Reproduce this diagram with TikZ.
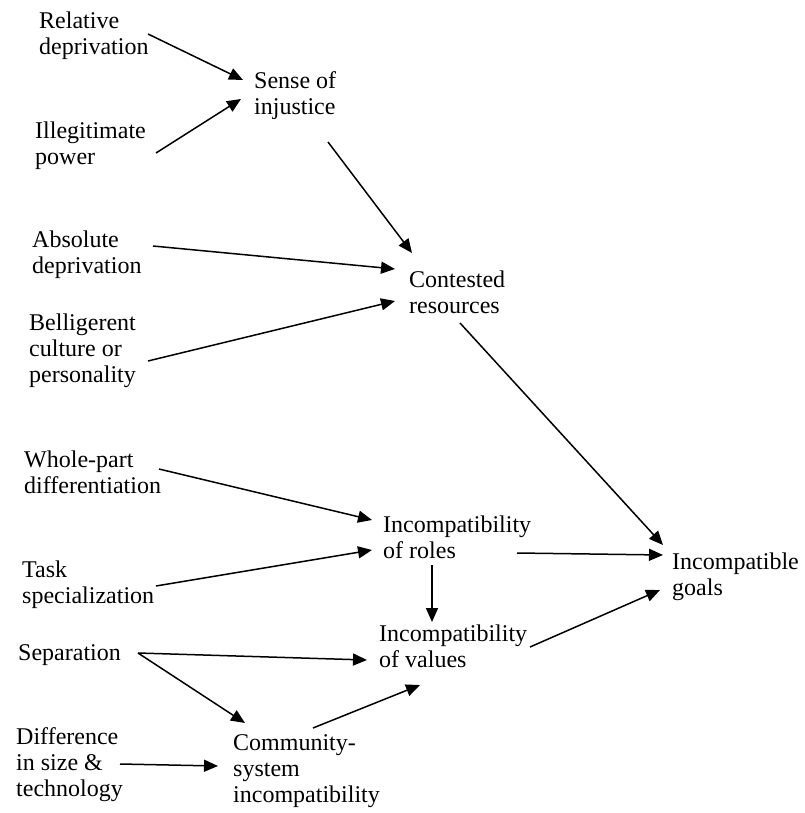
\documentclass[tikz,border=0pt]{standalone}
\usepackage{fontspec}
\setmainfont{Liberation Serif}
\usetikzlibrary{arrows.meta}
\newcommand{\lns}[1]{\begin{tabular}[t]{@{}l@{}}#1\end{tabular}}
\begin{document}
\begin{tikzpicture}[x=1pt,y=-1pt,
  lbl/.style={anchor=base west,inner sep=0pt,font=\fontsize{24}{26}\selectfont},
  conn/.style={line width=1.5pt,-{Triangle[length=14pt,width=12pt]}}]
\useasboundingbox (0,0) rectangle (804,813);
\node[lbl] (rel)    at (39,29)   {\lns{Relative\\deprivation}};
\node[lbl] (sense)  at (254,89)  {\lns{Sense of\\injustice}};
\node[lbl] (illeg)  at (35,139)  {\lns{Illegitimate\\power}};
\node[lbl] (abs)    at (32,247)  {\lns{Absolute\\deprivation}};
\node[lbl] (cont)   at (409,287) {\lns{Contested\\resources}};
\node[lbl] (bell)   at (29,330)  {\lns{Belligerent\\culture or\\personality}};
\node[lbl] (whole)  at (24,467)  {\lns{Whole-part\\differentiation}};
\node[lbl] (roles)  at (383,532) {\lns{Incompatibility\\of roles}};
\node[lbl] (goals)  at (672,569) {\lns{Incompatible\\goals}};
\node[lbl] (task)   at (22,577)  {\lns{Task\\specialization}};
\node[lbl] (sep)    at (18,660)  {\lns{Separation}};
\node[lbl] (values) at (379,641) {\lns{Incompatibility\\of values}};
\node[lbl] (diff)   at (16,744)  {\lns{Difference\\in size \&\\technology}};
\node[lbl] (comm)   at (233,750) {\lns{Community-\\system\\incompatibility}};

\draw[conn] ([shift={(109,5)}]rel.base west) -- ([shift={(-11,-9)}]sense.base west);
\draw[conn] ([shift={(121,14)}]illeg.base west) -- ([shift={(-13,10)}]sense.base west);
\draw[conn] ([shift={(74,53)}]sense.base west) -- ([shift={(3,-34)}]cont.base west);
\draw[conn] ([shift={(121,-1)}]abs.base west) -- ([shift={(-14,-18)}]cont.base west);
\draw[conn] ([shift={(119,31)}]bell.base west) -- ([shift={(-14,14)}]cont.base west);
\draw[conn] ([shift={(51,36)}]cont.base west) -- ([shift={(-9,-24)}]goals.base west);
\draw[conn] ([shift={(135,2)}]whole.base west) -- ([shift={(-11,-12)}]roles.base west);
\draw[conn] ([shift={(134,9)}]task.base west) -- ([shift={(-11,18)}]roles.base west);
\draw[conn] ([shift={(134,21)}]roles.base west) -- ([shift={(-9,-14)}]goals.base west);
\draw[conn] ([shift={(49,33)}]roles.base west) -- ([shift={(53,-19)}]values.base west);
\draw[conn] ([shift={(151,6)}]values.base west) -- ([shift={(-12,21)}]goals.base west);
\draw[conn] ([shift={(120,-7)}]sep.base west) -- ([shift={(-12,19)}]values.base west);
\draw[conn] ([shift={(120,-7)}]sep.base west) -- ([shift={(12,-27)}]comm.base west);
\draw[conn] ([shift={(80,-22)}]comm.base west) -- ([shift={(41,44)}]values.base west);
\draw[conn] ([shift={(104,20)}]diff.base west) -- ([shift={(-15,16)}]comm.base west);
\end{tikzpicture}
\end{document}
